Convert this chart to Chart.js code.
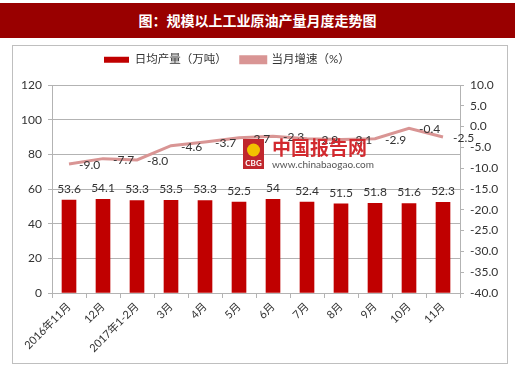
<!DOCTYPE html>
<html><head><meta charset="utf-8">
<script src="https://cdn.jsdelivr.net/npm/chart.js@4.4.1/dist/chart.umd.min.js"></script>
<style>
body{margin:0;width:520px;height:371px;background:#fff;position:relative;overflow:hidden;font-family:Lato,"Noto Sans CJK SC",sans-serif}
#title{position:absolute;left:0;top:3px;width:515px;height:35px;background:#990000;color:#fff;font:bold 14px "Noto Sans CJK SC",sans-serif;text-align:center;line-height:35px}
#box{position:absolute;left:12px;top:45px;width:496px;height:319px;border:1px solid #BFBFBF;box-sizing:border-box}
#wrap{position:absolute;left:13px;top:46px;width:494px;height:317px}
</style></head>
<body>
<div id="title">图：规模以上工业原油产量月度走势图</div>
<div id="box"></div>
<div id="wrap"><canvas id="c" width="494" height="317"></canvas></div>
<script>
const categories = ["2016年11月","12月","2017年1-2月","3月","4月","5月","6月","7月","8月","9月","10月","11月"];
const outputValues = [53.6, 54.1, 53.3, 53.5, 53.3, 52.5, 54, 52.4, 51.5, 51.8, 51.6, 52.3];
const growthValues = [-9.0, -7.7, -8.0, -4.6, -3.7, -2.7, -2.3, -2.9, -3.1, -2.9, -0.4, -2.5];
const leftTicks = [0, 20, 40, 60, 80, 100, 120];
const rightTicks = [-40, -35, -30, -25, -20, -15, -10, -5, 0, 5, 10];
const seriesNames = ["日均产量（万吨）", "当月增速（%）"];

const FONT = 'Lato, "Noto Sans CJK SC", sans-serif';
const TXT = '#333333';
const GRID = '#B3B3B3';

const legendTweak = {
  id: 'legendTweak',
  beforeInit(chart) {
    const lg = chart.legend;
    if (!lg) return;
    const fit = lg.fit;
    lg.fit = function () { fit.call(this); this.height = 39; };
  },
  afterLayout(chart) {
    const lg = chart.legend;
    if (!lg) return;
    lg.left = 77;
    lg.top = -6;
  }
};

const labelPlugin = {
  id: 'valueLabels',
  afterDatasetsDraw(chart) {
    const ctx = chart.ctx;
    ctx.save();
    ctx.font = '12px ' + FONT;
    ctx.fillStyle = TXT;
    const barMeta = chart.getDatasetMeta(0);
    ctx.textAlign = 'center';
    ctx.textBaseline = 'bottom';
    barMeta.data.forEach((el, i) => {
      ctx.fillText(String(outputValues[i]), el.x, el.y - 5);
    });
    const lineMeta = chart.getDatasetMeta(1);
    ctx.textAlign = 'left';
    ctx.textBaseline = 'middle';
    lineMeta.data.forEach((el, i) => {
      ctx.fillText(growthValues[i].toFixed(1), el.x + 10, el.y + 1);
    });
    ctx.restore();
  },
  afterDraw(chart) {
    // source watermark
    const ctx = chart.ctx;
    ctx.save();
    ctx.fillStyle = '#C0272D';
    ctx.fillRect(230, 93, 21, 30);
    ctx.fillStyle = '#F2C200';
    ctx.beginPath();
    ctx.arc(240.5, 104, 6.5, 0, Math.PI * 2);
    ctx.fill();
    ctx.fillStyle = '#fff';
    ctx.font = 'bold 8px ' + FONT;
    ctx.textAlign = 'center';
    ctx.textBaseline = 'middle';
    ctx.fillText('CBG', 240.5, 117);
    ctx.fillStyle = '#D22A2F';
    ctx.font = 'bold 19px "Noto Sans CJK SC", sans-serif';
    ctx.textAlign = 'left';
    ctx.fillText('中国报告网', 259, 102);
    ctx.fillStyle = '#555';
    ctx.font = '10px ' + FONT;
    ctx.fillText('www.chinabaogao.com', 259, 119);
    ctx.restore();
  }
};

new Chart(document.getElementById('c'), {
  data: {
    labels: categories,
    datasets: [
      { type: 'bar', label: seriesNames[0], data: outputValues, yAxisID: 'y',
        backgroundColor: '#C00000', borderWidth: 0, barThickness: 14 },
      { type: 'line', label: seriesNames[1], data: growthValues, yAxisID: 'y1',
        borderColor: '#D99594', backgroundColor: '#D99594', borderWidth: 3,
        pointRadius: 0, tension: 0 }
    ]
  },
  options: {
    responsive: false,
    animation: false,
    layout: { padding: { top: 0, left: 0, right: 0, bottom: 0 } },
    plugins: {
      legend: {
        position: 'top',
        align: 'start',
        labels: { boxWidth: 25, boxHeight: 6, padding: 14, color: TXT, font: { size: 11.5, family: FONT } }
      },
      tooltip: { enabled: false }
    },
    scales: {
      x: {
        grid: { display: true, drawOnChartArea: false, tickLength: 5, color: GRID, offset: true },
        border: { color: GRID },
        ticks: { color: TXT, font: { size: 11, family: FONT }, minRotation: 45, maxRotation: 45, padding: 2 },
        afterFit(s) { s.height = 70; }
      },
      y: {
        position: 'left', min: 0, max: 120,
        afterBuildTicks(s) { s.ticks = leftTicks.map(v => ({ value: v })); },
        grid: { color: GRID, tickLength: 4 },
        border: { color: GRID },
        ticks: { color: TXT, font: { size: 12, family: FONT }, padding: 6 },
        afterFit(s) { s.width = 39; }
      },
      y1: {
        position: 'right', min: -40, max: 10,
        afterBuildTicks(s) { s.ticks = rightTicks.map(v => ({ value: v })); },
        grid: { drawOnChartArea: false, color: GRID, tickLength: 4 },
        border: { color: GRID },
        ticks: { color: TXT, font: { size: 12, family: FONT }, padding: 6, callback: v => Number(v).toFixed(1) },
        afterFit(s) { s.width = 47; }
      }
    }
  },
  plugins: [legendTweak, labelPlugin]
});
</script>
</body></html>
